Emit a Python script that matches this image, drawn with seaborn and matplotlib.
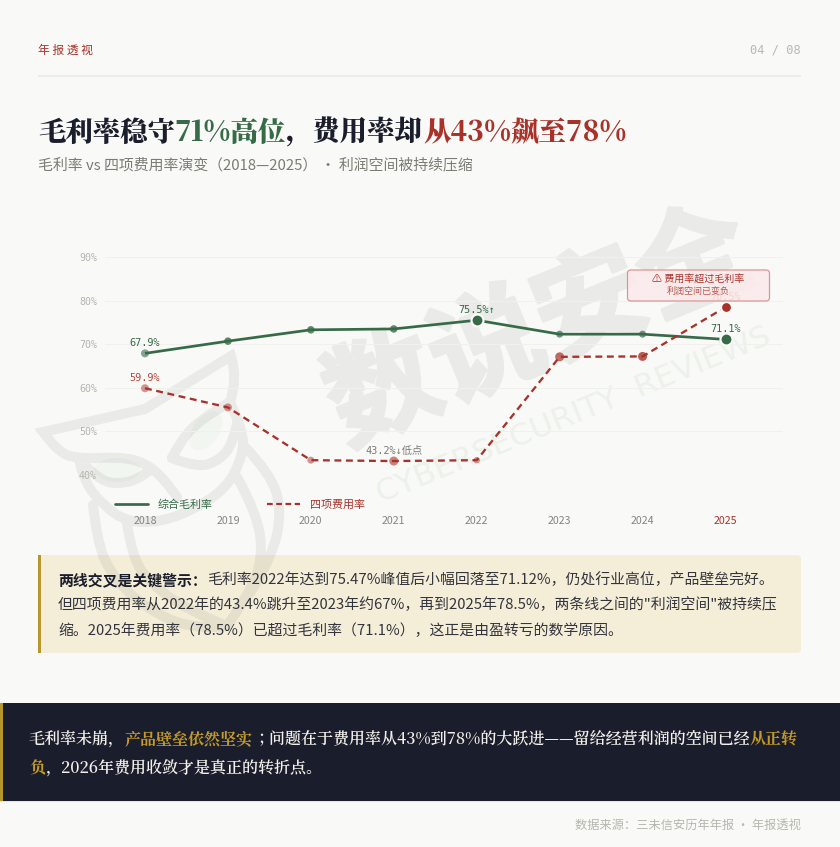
import matplotlib
matplotlib.use('Agg')
import matplotlib.pyplot as plt
import matplotlib.font_manager as fm
import matplotlib.patheffects as pe
from matplotlib.patches import FancyBboxPatch, Rectangle, PathPatch, Ellipse
from matplotlib.path import Path
from matplotlib.lines import Line2D
import pandas as pd
import seaborn as sns

# ---- data ----
years = [2018, 2019, 2020, 2021, 2022, 2023, 2024, 2025]
gross_margin = [67.9, 70.7, 73.3, 73.5, 75.5, 72.3, 72.3, 71.1]
expense_rate = [59.9, 55.5, 43.4, 43.2, 43.4, 67.1, 67.2, 78.5]
y_ticks = [40, 50, 60, 70, 80, 90]
gm_name = '综合毛利率'
ex_name = '四项费用率'

# ---- styles ----
gm_sizes = [8, 7.5, 7.5, 7.5, 12, 7, 7, 12]
gm_alpha = [.6, .8, .8, .8, 1, .7, .7, 1]
ex_sizes = [8, 8, 7, 9, 6.5, 9, 9, 11]
ex_alpha = [.5, .5, .5, .6, .5, .7, .8, 1]

BG = '#f9f9f7'; GREEN = '#376b48'; RED = '#a8322a'; INK = '#1a1d2b'; GOLD = '#b8962e'

sns.set_theme(style='white', rc={'figure.facecolor': BG, 'axes.facecolor': 'none'})
SANS = ['Noto Sans CJK SC', 'DejaVu Sans']
SERIF = ['Noto Serif CJK JP', 'Noto Sans CJK SC']
MONO = ['DejaVu Sans Mono', 'Noto Sans CJK SC']
plt.rcParams['font.family'] = SANS

W, H = 840, 847
fig = plt.figure(figsize=(W / 100, H / 100), dpi=100, facecolor=BG)
bg = fig.add_axes([0, 0, 1, 1], zorder=0)
bg.set_xlim(0, W); bg.set_ylim(H, 0); bg.axis('off')
PX = 0.72


def px(v):
    return v * PX


# ---- panels and watermark ----
bg.add_patch(FancyBboxPatch((38, 555), 763, 98, boxstyle='round,pad=0,rounding_size=4',
                            fc='#f4eed8', ec='none', zorder=1))
bg.add_patch(Rectangle((38, 555), 3, 98, fc=GOLD, ec='none', zorder=1.5))


def smooth(points):
    verts = [points[0]]; codes = [Path.MOVETO]
    for i in range(1, len(points) - 1):
        a, b = points[i], points[i + 1]
        end = ((a[0] + b[0]) / 2, (a[1] + b[1]) / 2) if i < len(points) - 2 else b
        verts += [a, end]; codes += [Path.CURVE3, Path.CURVE3]
    return Path(verts, codes)


WM = '#eaeae8'
WMA = (0, 0, 0, 0.058)
bg.add_patch(Ellipse((117, 470), 46, 24, fc=(0.55, 0.8, 0.5, 0.06), ec='none', zorder=1.8))
bg.add_patch(Ellipse((206, 431), 44, 26, angle=-55, fc=(0.55, 0.8, 0.5, 0.06), ec='none', zorder=1.8))
head = smooth([(230, 402), (238, 378), (231, 356)])
wing = smooth([(43, 432), (57, 451), (77, 459), (120, 457), (143, 462), (163, 477), (177, 497)])
head_wing = Path(list(head.vertices) + [(145, 409)] + list(wing.vertices),
                 list(head.codes) + [Path.LINETO] + [Path.LINETO] + list(wing.codes[1:]))
owl_strokes = [
    [(80, 464), (85, 483), (103, 505), (127, 522), (160, 522), (193, 510), (227, 488), (243, 455), (243, 430), (230, 402)],
    [(230, 402), (197, 421), (177, 447), (172, 458)],
    [(172, 458), (197, 468), (220, 460), (233, 443), (238, 420)],
    [(88, 468), (100, 480), (117, 484), (137, 480), (149, 471)],
    [(93, 505), (97, 540), (110, 573), (143, 607), (193, 630), (227, 626)],
    [(127, 523), (132, 557), (150, 583), (187, 610), (227, 626)],
    [(237, 477), (257, 513), (263, 557), (250, 593), (227, 626)],
    [(245, 447), (270, 473), (282, 510), (272, 558), (250, 593)],
]
owl = Path.make_compound_path(head_wing, *[smooth(p) for p in owl_strokes])
bg.add_patch(PathPatch(owl, fc='none', ec=WMA, lw=px(10), joinstyle='miter', capstyle='round', zorder=2))

bg.text(540, 330, '数说安全', fontsize=px(112), fontweight='black', color=WM, rotation=22.4,
        rotation_mode='anchor', ha='center', va='center', zorder=1.9,
        family=['Noto Sans CJK SC'], path_effects=[pe.withStroke(linewidth=px(3), foreground=WM)])
bg.text(574, 415, 'CYBERSECURITY  REVIEWS', fontsize=px(31.5), color='#ecf1ea',
        rotation=22.2, rotation_mode='anchor', ha='center', va='center', zorder=1.95, family=['DejaVu Sans'])

bg.add_patch(Rectangle((0, 703), W, 98, fc=INK, ec='none', zorder=3))
bg.add_patch(Rectangle((0, 703), 2.5, 98, fc=GOLD, ec='none', zorder=3.1))
bg.add_patch(Rectangle((0, 801), W, 1, fc='#e4e4e0', ec='none', zorder=3))
bg.add_patch(Rectangle((38, 75.5), 763, 1.5, fc='#ecece9', ec='none', zorder=1))

# ---- header texts ----
renderer = fig.canvas.get_renderer()


def advance(s, **kw):
    t = bg.text(0, 0, s + '|', **kw); a = t.get_window_extent(renderer).width; t.remove()
    t = bg.text(0, 0, '|', **kw); b = t.get_window_extent(renderer).width; t.remove()
    return a - b


def rich(x, y, segments, size, family, weight='normal', zorder=5):
    for seg in segments:
        s, c = seg[0], seg[1]
        w = seg[2] if len(seg) > 2 else weight
        kw = dict(fontsize=px(size), family=family, fontweight=w)
        bg.text(x, y, s, color=c, va='center_baseline', ha='left', zorder=zorder, **kw)
        x += advance(s, **kw)


bg.text(38, 50, '年 报 透 视', color=RED, fontsize=px(11.8), fontweight='medium', va='center', family=SANS)
bg.text(801, 50, '04 / 08', color='#b9b9b3', fontsize=px(12), ha='right', va='center', family=MONO)

rich(38, 129, [('毛利率稳守', INK), ('71%高位', GREEN), ('，费用率却', INK), ('从43%飙至78%', RED)],
     27.45, SERIF, weight=900)
bg.text(38, 165, '毛利率 vs 四项费用率演变（2018—2025） · 利润空间被持续压缩', color='#7c7c74',
        fontsize=px(14.9), va='center', family=SANS)

BODY = '#33343d'
rich(58, 578.5, [('两线交叉是关键警示：', INK, 'bold'),
                 ('毛利率2022年达到75.47%峰值后小幅回落至71.12%，仍处行业高位，产品壁垒完好。', BODY)], 14.88, SANS)
rich(58, 603.5, [('但四项费用率从2022年的43.4%跳升至2023年约67%，再到2025年78.5%，两条线之间的"利润空间"被持续压', BODY)], 14.88, SANS)
rich(58, 629, [('缩。2025年费用率（78.5%）已超过毛利率（71.1%），这正是由盈转亏的数学原因。', BODY)], 14.88, SANS)

LIGHT = '#f1f0ea'; HL = '#c39a28'
rich(29, 738, [('毛利率未崩，', LIGHT), ('产品壁垒依然坚实', HL, 700),
               ('；问题在于费用率从43%到78%的大跃进——留给经营利润的空间已经', LIGHT), ('从正转', HL, 700)],
     16.03, SERIF, weight=600)
rich(29, 767, [('负', HL, 700), ('，2026年费用收敛才是真正的转折点。', LIGHT)], 16.03, SERIF, weight=600)

bg.text(801, 825, '数据来源：三未信安历年年报 · 年报透视', color='#b6b6af', fontsize=px(12.2), ha='right', va='center', family=SANS)

# ---- chart ----
ax = fig.add_axes([105 / W, 1 - 475 / H, 678 / W, 218 / H], zorder=1)
df = pd.DataFrame({'year': years * 2,
                   'rate': gross_margin + expense_rate,
                   'series': [gm_name] * len(years) + [ex_name] * len(years)})
sns.lineplot(data=df, x='year', y='rate', hue='series', style='series',
             hue_order=[gm_name, ex_name], style_order=[gm_name, ex_name],
             palette={gm_name: GREEN, ex_name: RED}, dashes={gm_name: '', ex_name: (3, 2)},
             markers=False, legend=False, ax=ax, clip_on=False)
ax.lines[0].set_linewidth(px(2.7)); ax.lines[1].set_linewidth(px(2.3))
ax.lines[0].set_solid_capstyle('butt')
ax.set_xlim(2018 - 40 / 82.93, 2025 + 57.5 / 82.93)
ax.set_ylim(40, 90)
ax.set_xlabel(''); ax.set_ylabel('')
sns.despine(ax=ax, left=True, bottom=True)
ax.set_yticks(y_ticks); ax.set_yticklabels([f'{v}%' for v in y_ticks])
ax.set_xticks(years); ax.set_xticklabels([str(y) for y in years])
ax.grid(axis='y', color='#f0f0ed', lw=px(1)); ax.grid(axis='x', visible=False)
ax.set_axisbelow(True)
ax.tick_params(axis='y', length=0, pad=px(8), labelsize=px(10), labelcolor='#b5b5af')
ax.tick_params(axis='x', length=0, pad=px(41), labelsize=px(10.6), labelcolor='#85857e')
for t in ax.get_yticklabels():
    t.set_family(MONO)
ax.get_xticklabels()[-1].set_color(RED)


def rgba(c, a):
    return matplotlib.colors.to_rgba(c, a)


for vals, sizes, alphas, col in [(gross_margin, gm_sizes, gm_alpha, GREEN), (expense_rate, ex_sizes, ex_alpha, RED)]:
    for x, v, d, a in zip(years, vals, sizes, alphas):
        big = d >= 11
        ax.scatter([x], [v], s=px(d) ** 2, color=[rgba(col, a)], zorder=4, clip_on=False,
                   edgecolors=BG if big else 'none', linewidths=px(2.2) if big else 0)

labels = [(years[0], gross_margin[0], '67.9%', GREEN), (years[0], expense_rate[0], '59.9%', '#b5493f'),
          (years[3], expense_rate[3], '43.2%↓低点', '#7b7b75'), (years[4], gross_margin[4], '75.5%↑', GREEN),
          (years[7], gross_margin[7], '71.1%', GREEN), (years[7], expense_rate[7], '78.5%', RED)]
for x, v, s, c in labels:
    ax.annotate(s, (x, v), xytext=(0, px(10)), textcoords='offset points', ha='center', va='center',
                fontsize=px(10.2), color=c, family=MONO, zorder=3)

leg = ax.legend(handles=[Line2D([], [], color=GREEN, lw=px(2.7)),
                         Line2D([], [], color=RED, lw=px(2.2), dashes=(2.6, 1.6))],
                labels=[gm_name, ex_name], ncol=2, frameon=False, loc='center left',
                bbox_to_anchor=(115 / W, 1 - 504.5 / H), bbox_transform=fig.transFigure,
                borderpad=0, borderaxespad=0, handlelength=3, handletextpad=0.9, columnspacing=4.9,
                prop=fm.FontProperties(family=SANS, size=px(11)))
for t, c in zip(leg.get_texts(), [GREEN, RED]):
    t.set_color(c)

# annotation above chart
top = fig.add_axes([0, 0, 1, 1], zorder=2)
top.set_xlim(0, W); top.set_ylim(H, 0); top.axis('off')
top.add_patch(FancyBboxPatch((627.5, 270), 142, 31, boxstyle='round,pad=0,rounding_size=3.5',
                             fc=(0.985, 0.92, 0.92, 0.88), ec='#d99390', lw=px(1.2)))
top.text(698, 279.5, '⚠ 费用率超过毛利率', color=RED, fontsize=px(10), fontweight='medium', ha='center', va='center',
         family=['Noto Sans CJK SC', 'DejaVu Sans'])
top.text(698, 291, '利润空间已变负', color='#b9564d', fontsize=px(9), ha='center', va='center', family=SANS)

fig.savefig('out.png', dpi=100, facecolor=BG)
